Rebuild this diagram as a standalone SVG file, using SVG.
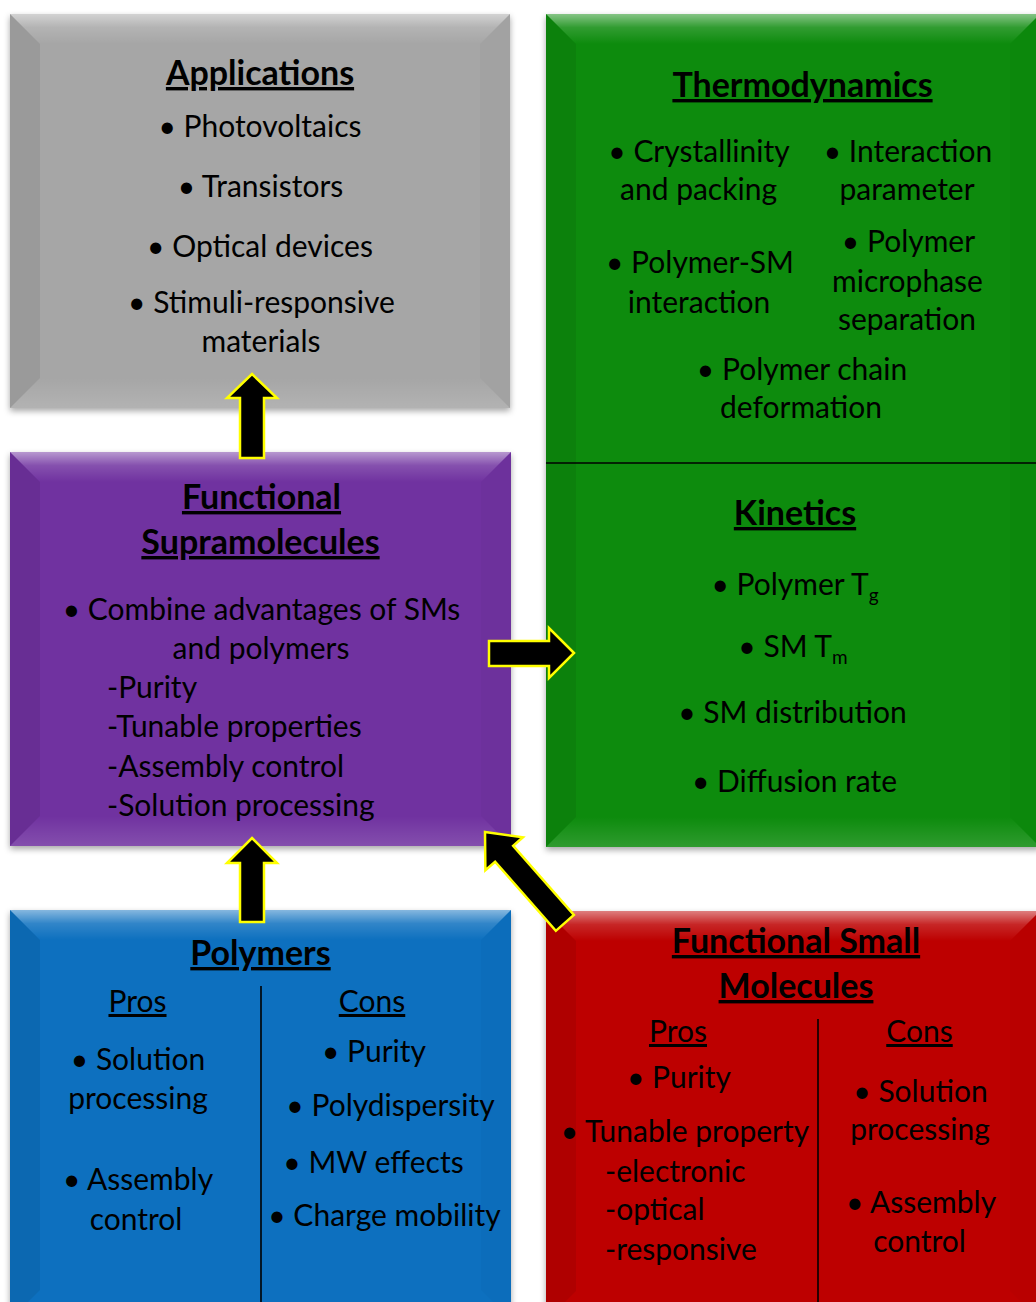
<svg xmlns="http://www.w3.org/2000/svg" width="1036" height="1302" viewBox="0 0 1036 1302">
<style>
text{font-family:Lato,"Liberation Sans",sans-serif;fill:#000;}
.t{font-size:34px;font-weight:bold;text-anchor:middle;text-decoration:underline;}
.b{font-size:30px;text-anchor:middle;}
.l{font-size:30px;text-anchor:start;}
.u{font-size:30px;text-anchor:middle;text-decoration:underline;}
.bt{fill:url(#gTop);}
.bb{fill:url(#gBot);}
.bl{fill:#000;fill-opacity:0.07;}
.br{fill:#000;fill-opacity:0.02;}
.div{stroke:#000;stroke-width:1.6;}
.arrow{fill:#000;stroke:#ffff00;stroke-width:2.5;stroke-linejoin:miter;}
</style>
<defs>
<linearGradient id="gTop" x1="0" y1="0" x2="0" y2="1">
<stop offset="0" stop-color="#fff" stop-opacity="0.5"/>
<stop offset="0.45" stop-color="#fff" stop-opacity="0.15"/>
<stop offset="1" stop-color="#fff" stop-opacity="0"/>
</linearGradient>
<linearGradient id="gBot" x1="0" y1="0" x2="0" y2="1">
<stop offset="0" stop-color="#fff" stop-opacity="0"/>
<stop offset="1" stop-color="#fff" stop-opacity="0.14"/>
</linearGradient>
<filter id="shadow" x="-5%" y="-5%" width="110%" height="110%">
<feDropShadow dx="0" dy="3" stdDeviation="3" flood-color="#000" flood-opacity="0.35"/>
</filter>
</defs>
<rect width="1036" height="1302" fill="#fff"/>

<g id="applications">
<rect x="10" y="14" width="500" height="394" fill="#a6a6a6" filter="url(#shadow)"/>
<polygon class="bt" points="10,14 510,14 480,44 40,44"/>
<polygon class="bl" points="10,14 40,44 40,378 10,408"/>
<polygon class="br" points="510,14 510,408 480,378 480,44"/>
<polygon class="bb" points="10,408 40,378 480,378 510,408"/>
<text class="t" x="260" y="85">Applications</text>
<text class="b" x="260" y="137">• Photovoltaics</text>
<text class="b" x="260.5" y="197">• Transistors</text>
<text class="b" x="260" y="257">• Optical devices</text>
<text class="b" x="261.5" y="313">• Stimuli-responsive</text>
<text class="b" x="261" y="352">materials</text>
</g>

<g id="supramolecules">
<rect x="10" y="452" width="501" height="394" fill="#7030a0" filter="url(#shadow)"/>
<polygon class="bt" points="10,452 511,452 481,482 40,482"/>
<polygon class="bl" points="10,452 40,482 40,816 10,846"/>
<polygon class="br" points="511,452 511,846 481,816 481,482"/>
<polygon class="bb" points="10,846 40,816 481,816 511,846"/>
<text class="t" x="261.5" y="509">Functional</text>
<text class="t" x="260.5" y="554">Supramolecules</text>
<text class="b" x="261.5" y="620">• Combine advantages of SMs</text>
<text class="b" x="261" y="659">and polymers</text>
<text class="l" x="107" y="698">-Purity</text>
<text class="l" x="107" y="737">-Tunable properties</text>
<text class="l" x="107" y="777">-Assembly control</text>
<text class="l" x="107" y="816">-Solution processing</text>
</g>

<g id="thermo-kinetics">
<rect x="546" y="14" width="494" height="833" fill="#098b09" filter="url(#shadow)"/>
<polygon class="bt" points="546,14 1040,14 1010,44 576,44"/>
<polygon class="bl" points="546,14 576,44 576,817 546,847"/>
<polygon class="br" points="1040,14 1040,847 1010,817 1010,44"/>
<polygon class="bb" points="546,847 576,817 1010,817 1040,847"/>
<line class="div" x1="546" y1="463" x2="1040" y2="463"/>
<g id="thermodynamics">
<text class="t" x="802.5" y="97">Thermodynamics</text>
<text class="b" x="699" y="162">• Crystallinity</text>
<text class="b" x="698.5" y="200">and packing</text>
<text class="b" x="908" y="162">• Interaction</text>
<text class="b" x="907" y="200">parameter</text>
<text class="b" x="700" y="273">• Polymer-SM</text>
<text class="b" x="699" y="313">interaction</text>
<text class="b" x="908.5" y="252">• Polymer</text>
<text class="b" x="907.5" y="292">microphase</text>
<text class="b" x="907" y="330">separation</text>
<text class="b" x="802" y="380">• Polymer chain</text>
<text class="b" x="801" y="418">deformation</text>
</g>
<g id="kinetics">
<text class="t" x="795" y="525">Kinetics</text>
<text class="b" x="795" y="595">• Polymer T<tspan font-size="19" dy="7">g</tspan></text>
<text class="b" x="793" y="657">• SM T<tspan font-size="19" dy="7">m</tspan></text>
<text class="b" x="792.5" y="723">• SM distribution</text>
<text class="b" x="794.5" y="792">• Diffusion rate</text>
</g>
</g>

<g id="polymers">
<rect x="10" y="910" width="501" height="410" fill="#0a6fbf" filter="url(#shadow)"/>
<polygon class="bt" points="10,910 511,910 481,940 40,940"/>
<polygon class="bl" points="10,910 40,940 40,1290 10,1320"/>
<polygon class="br" points="511,910 511,1320 481,1290 481,940"/>
<line class="div" x1="261" y1="986" x2="261" y2="1302"/>
<text class="t" x="260.5" y="965">Polymers</text>
<text class="u" x="137.5" y="1012">Pros</text>
<text class="u" x="372" y="1012">Cons</text>
<text class="b" x="138" y="1070">• Solution</text>
<text class="b" x="138" y="1109">processing</text>
<text class="b" x="138" y="1190">• Assembly</text>
<text class="b" x="136" y="1230">control</text>
<text class="b" x="374" y="1062">• Purity</text>
<text class="b" x="390.5" y="1116">• Polydispersity</text>
<text class="b" x="373.5" y="1173">• MW effects</text>
<text class="b" x="384.5" y="1226">• Charge mobility</text>
</g>

<g id="small-molecules">
<rect x="546" y="911" width="494" height="410" fill="#bd0606" filter="url(#shadow)"/>
<polygon class="bt" points="546,911 1040,911 1010,941 576,941"/>
<polygon class="bl" points="546,911 576,941 576,1291 546,1321"/>
<polygon class="br" points="1040,911 1040,1321 1010,1291 1010,941"/>
<line class="div" x1="818" y1="1019" x2="818" y2="1302"/>
<text class="t" x="796" y="953">Functional Small</text>
<text class="t" x="796" y="998">Molecules</text>
<text class="u" x="678" y="1042">Pros</text>
<text class="u" x="919.5" y="1042">Cons</text>
<text class="b" x="679" y="1088">• Purity</text>
<text class="b" x="685" y="1142">• Tunable property</text>
<text class="l" x="605" y="1182">-electronic</text>
<text class="l" x="605" y="1220">-optical</text>
<text class="l" x="605" y="1260">-responsive</text>
<text class="b" x="920.5" y="1102">• Solution</text>
<text class="b" x="920" y="1140">processing</text>
<text class="b" x="921" y="1213">• Assembly</text>
<text class="b" x="919.5" y="1252">control</text>
</g>

<g id="connectors">
<polygon class="arrow" points="252,374 277,398 264,398 264,458 240,458 240,398 227,398"/>
<polygon class="arrow" points="252,838 277,863 264,863 264,922 240,922 240,863 227,863"/>
<polygon class="arrow" points="574,653 549,628 549,641 489,641 489,666 549,666 549,678"/>
<polygon class="arrow" transform="translate(485,832) rotate(-41.3)" points="0,0 25,29 12,29 12,121 -12,121 -12,29 -25,29"/>
</g>
</svg>
